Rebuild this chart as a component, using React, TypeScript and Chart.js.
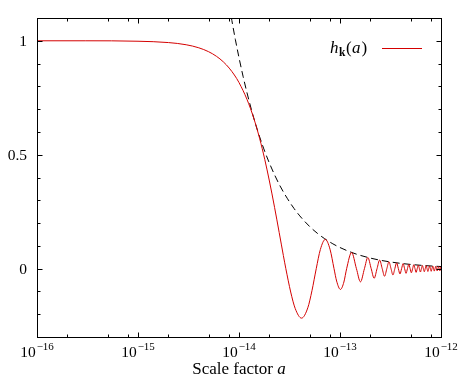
import React, { useEffect, useRef } from "react";
import { Chart, registerables } from "chart.js";

Chart.register(...registerables);

// Red curve h_k(a): scale factor values and amplitudes
const scaleFactor = [
  1e-16, 3e-16, 1e-15, 2e-15, 3e-15, 4e-15, 5e-15, 6e-15, 7e-15, 8e-15, 9e-15,
  1e-14, 1.2e-14, 1.4e-14, 1.6e-14, 1.8e-14, 2e-14, 2.25e-14, 2.5e-14, 2.75e-14, 2.909e-14,
  3.25e-14, 3.6e-14, 4.16e-14, 4.8e-14, 5.278e-14, 5.818e-14, 6.389e-14, 7.153e-14, 7.963e-14,
  8.727e-14, 9.259e-14, 1.0096e-13, 1.0926e-13, 1.1636e-13, 1.3024e-13, 1.4544e-13, 1.5945e-13,
  1.7454e-13, 1.8862e-13, 2.0362e-13, 2.1777e-13, 2.3271e-13, 2.4691e-13, 2.618e-13, 2.7604e-13,
  2.9089e-13, 3.0515e-13, 3.1998e-13, 3.3426e-13, 3.4907e-13, 3.6338e-13, 3.7816e-13, 3.9248e-13,
  4.0724e-13, 4.2158e-13, 4.3633e-13, 4.5069e-13, 4.6542e-13, 4.7979e-13, 4.9451e-13, 5.0889e-13,
  5.236e-13, 5.3798e-13, 5.5269e-13, 5.6708e-13, 5.8178e-13, 5.9618e-13, 6.1086e-13, 6.2527e-13,
  6.3995e-13, 6.5437e-13, 6.6904e-13, 6.8346e-13, 6.9813e-13, 7.1256e-13, 7.2722e-13, 7.4165e-13,
  7.5631e-13, 7.7074e-13, 7.854e-13, 7.9983e-13, 8.1449e-13, 8.2893e-13, 8.4357e-13, 8.5802e-13,
  8.7267e-13, 8.8712e-13, 9.0175e-13, 9.162e-13, 9.3084e-13, 9.453e-13, 9.5993e-13, 9.7439e-13,
  9.8902e-13, 1e-12,
];
const hk = [
  1, 1, 0.998, 0.9922, 0.9826, 0.9692, 0.9521, 0.9315, 0.9075, 0.8801, 0.8498,
  0.8167, 0.7427, 0.6602, 0.5716, 0.4789, 0.3847, 0.2688, 0.1583, 0.0575, 0,
  -0.1026, -0.1746, -0.2172, -0.1718, -0.0966, 0, 0.0838, 0.1284, 0.0854,
  0, -0.0544, -0.0913, -0.0588, 0, 0.0709, 0, -0.058,
  0, 0.049, 0, -0.0425, 0, 0.0375, 0, -0.0335,
  0, 0.0303, 0, -0.0277, 0, 0.0255, 0, -0.0236,
  0, 0.022, 0, -0.0205, 0, 0.0193, 0, -0.0182,
  0, 0.0172, 0, -0.0163, 0, 0.0155, 0, -0.0148,
  0, 0.0141, 0, -0.0135, 0, 0.013, 0, -0.0125,
  0, 0.012, 0, -0.0116, 0, 0.0112, 0, -0.0108,
  0, 0.0104, 0, -0.0101, 0, 0.0098, 0, -0.0095,
  0, 0.0086,
];

// Dashed envelope
const envelopeScale = [
  7.72e-15, 8.5e-15, 9.2e-15, 1e-14, 1.1e-14, 1.2e-14, 1.35e-14, 1.5e-14, 1.75e-14, 2e-14,
  2.5e-14, 3e-14, 3.5e-14, 4e-14, 5e-14, 6e-14, 7e-14, 8.5e-14, 1e-13, 1.25e-13, 1.5e-13,
  2e-13, 2.5e-13, 3e-13, 4e-13, 5e-13, 7e-13, 1e-12,
];
const envelope = [
  1.2, 1.089, 1.006, 0.926, 0.842, 0.772, 0.686, 0.617, 0.529, 0.463,
  0.37, 0.309, 0.2646, 0.2315, 0.185, 0.1543, 0.1323, 0.1089, 0.0926, 0.0741, 0.0617,
  0.0463, 0.037, 0.0309, 0.0231, 0.0185, 0.0132, 0.00926,
];

// Axis ticks
const xMajorTicks = [1e-16, 1e-15, 1e-14, 1e-13, 1e-12];
const xTickExponents = ["\u221216", "\u221215", "\u221214", "\u221213", "\u221212"];
const xMinorMultipliers = [2, 5, 8];
const yMajorTicks = [0, 0.5, 1];
const yTickLabels = ["0", "0.5", "1"];
const yMinorTicks = [-0.3, -0.2, -0.1, 0.1, 0.2, 0.3, 0.4, 0.6, 0.7, 0.8, 0.9, 1.1];

const SERIF = '"Liberation Serif", "DejaVu Serif", serif';
const RED = "#d40000";

const axesPlugin = {
  id: "gnuAxes",
  afterDraw(chart: any) {
    const { ctx, chartArea, scales } = chart;
    const { left, right, top, bottom } = chartArea;
    const xs = scales.x;
    const ys = scales.y;
    const L = Math.floor(left) + 0.5;
    const R = Math.floor(right) + 0.5;
    const T = Math.floor(top) + 0.5;
    const B = Math.floor(bottom) + 0.5;
    ctx.save();
    ctx.strokeStyle = "#000";
    ctx.lineWidth = 1;
    ctx.setLineDash([]);
    ctx.strokeRect(L, T, R - L, B - T);

    const majorLen = 5;
    const minorLen = 3;
    ctx.beginPath();
    const xTick = (v: number, len: number) => {
      const px = Math.round(xs.getPixelForValue(v)) + 0.5;
      ctx.moveTo(px, B);
      ctx.lineTo(px, B - len);
      ctx.moveTo(px, T);
      ctx.lineTo(px, T + len);
    };
    xMajorTicks.forEach((v, i) => {
      xTick(v, majorLen);
      if (i < xMajorTicks.length - 1) {
        xMinorMultipliers.forEach((m) => xTick(v * m, minorLen));
      }
    });
    const yTick = (v: number, len: number) => {
      const py = Math.round(ys.getPixelForValue(v)) + 0.5;
      ctx.moveTo(L, py);
      ctx.lineTo(L + len, py);
      ctx.moveTo(R, py);
      ctx.lineTo(R - len, py);
    };
    yMajorTicks.forEach((v) => yTick(v, majorLen));
    yMinorTicks.forEach((v) => yTick(v, minorLen));
    ctx.stroke();

    ctx.fillStyle = "#000";
    // x tick labels
    xMajorTicks.forEach((v, i) => {
      const px = xs.getPixelForValue(v);
      ctx.font = `15.5px ${SERIF}`;
      const w10 = ctx.measureText("10").width;
      ctx.font = `11px ${SERIF}`;
      const wExp = ctx.measureText(xTickExponents[i]).width;
      const total = w10 + 1 + wExp;
      const x0 = px - total / 2;
      ctx.textAlign = "left";
      ctx.textBaseline = "alphabetic";
      ctx.font = `15.5px ${SERIF}`;
      ctx.fillText("10", x0, bottom + 20);
      ctx.font = `11px ${SERIF}`;
      ctx.fillText(xTickExponents[i], x0 + w10 + 1, bottom + 13);
    });

    // y tick labels
    ctx.font = `15.5px ${SERIF}`;
    ctx.textAlign = "right";
    ctx.textBaseline = "alphabetic";
    yMajorTicks.forEach((v, i) => {
      const py = ys.getPixelForValue(v);
      ctx.fillText(yTickLabels[i], left - 10, py + 5);
    });

    // x axis title
    ctx.textAlign = "left";
    const TF = 17;
    ctx.font = `${TF}px ${SERIF}`;
    const t1 = "Scale factor ";
    const w1 = ctx.measureText(t1).width;
    ctx.font = `italic ${TF}px ${SERIF}`;
    const w2 = ctx.measureText("a").width;
    const cx = (left + right) / 2;
    const tx = cx - (w1 + w2) / 2;
    ctx.font = `${TF}px ${SERIF}`;
    ctx.fillText(t1, tx, bottom + 37);
    ctx.font = `italic ${TF}px ${SERIF}`;
    ctx.fillText("a", tx + w1, bottom + 37);

    // legend
    let lx = 330;
    const lb = 53;
    ctx.font = `italic ${TF}px ${SERIF}`;
    ctx.fillText("h", lx, lb);
    lx += ctx.measureText("h").width + 0.5;
    ctx.font = `bold 11.5px ${SERIF}`;
    ctx.fillText("k", lx, lb + 3);
    lx += ctx.measureText("k").width + 0.5;
    ctx.font = `${TF}px ${SERIF}`;
    ctx.fillText("(", lx, lb);
    lx += ctx.measureText("(").width + 0.5;
    ctx.font = `italic ${TF}px ${SERIF}`;
    ctx.fillText("a", lx, lb);
    lx += ctx.measureText("a").width + 1;
    ctx.font = `${TF}px ${SERIF}`;
    ctx.fillText(")", lx, lb);

    ctx.strokeStyle = RED;
    ctx.beginPath();
    ctx.moveTo(382, 48.5);
    ctx.lineTo(422, 48.5);
    ctx.stroke();
    ctx.restore();
  },
};

export default function App() {
  const canvasRef = useRef<HTMLCanvasElement | null>(null);

  useEffect(() => {
    document.body.style.margin = "0";
    const canvas = canvasRef.current;
    if (!canvas) return;
    const chart = new Chart(canvas, {
      type: "line",
      data: {
        datasets: [
          {
            label: "h_k(a)",
            data: scaleFactor.map((a, i) => ({ x: a, y: hk[i] })),
            borderColor: RED,
            borderWidth: 1,
            pointRadius: 0,
            fill: false,
            cubicInterpolationMode: "monotone",
          },
          {
            label: "envelope",
            data: envelopeScale.map((a, i) => ({ x: a, y: envelope[i] })),
            borderColor: "#000",
            borderWidth: 1,
            borderDash: [7, 4],
            pointRadius: 0,
            fill: false,
            cubicInterpolationMode: "monotone",
          },
        ],
      },
      options: {
        animation: false,
        responsive: false,
        events: [],
        layout: { padding: { left: 37, right: 23, top: 18, bottom: 42 } },
        scales: {
          x: { type: "logarithmic", min: 1e-16, max: 1e-12, display: false },
          y: { type: "linear", min: -0.3, max: 1.1, display: false },
        },
        plugins: {
          legend: { display: false },
          tooltip: { enabled: false },
        },
      },
      plugins: [axesPlugin],
    });
    return () => chart.destroy();
  }, []);

  return (
    <div style={{ position: "fixed", left: 0, top: 0, width: 464, height: 379, background: "#fff" }}>
      <canvas ref={canvasRef} width={464} height={379} style={{ display: "block" }} />
    </div>
  );
}
